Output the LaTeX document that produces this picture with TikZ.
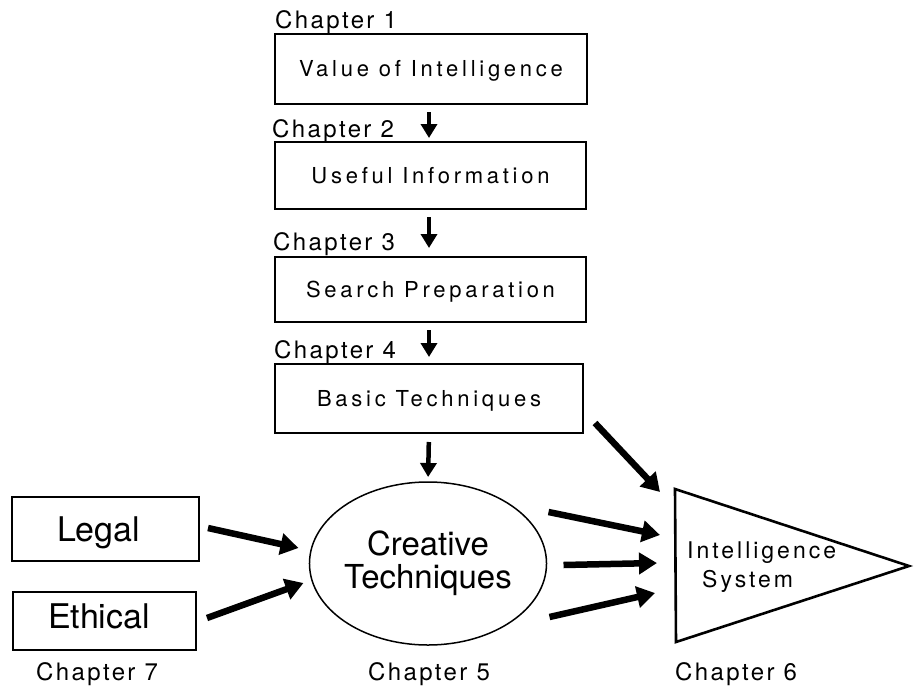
\documentclass[tikz,border=0pt]{standalone}
\usepackage{fontspec}
\setmainfont{TeX Gyre Heros}
\newfontfamily\chapfont[LetterSpace=10]{TeX Gyre Heros}
\newfontfamily\boxfont[LetterSpace=17]{TeX Gyre Heros}
\newfontfamily\trifont[LetterSpace=13]{TeX Gyre Heros}
\usetikzlibrary{arrows.meta,shapes.geometric}
\begin{document}
\begin{tikzpicture}[x=1pt,y=-1pt,
  chapbox/.style={draw, line width=1.7pt, inner sep=0pt, outer sep=0pt,
    text height=15pt, text depth=0pt,
    font=\boxfont\fontsize{22}{24}\selectfont},
  sidebox/.style={draw, line width=1.7pt, inner sep=0pt, outer sep=0pt,
    text height=24pt, text depth=0pt,
    font=\fontsize{34}{36}\selectfont},
  chaplabel/.style={inner sep=0pt, font=\chapfont\fontsize{24}{26}\selectfont},
  trilabel/.style={inner sep=0pt, font=\trifont\fontsize{23}{25}\selectfont},
  thinarrow/.style={line width=4.5pt, -{Triangle[length=14pt,width=16pt]}},
  bigarrow/.style={line width=6.5pt, -{Triangle[length=18pt,width=21pt]}}
]
\useasboundingbox (0,0) rectangle (914,689);

% chapter labels (top)
\node[chaplabel, anchor=base west] (c1) at (275,28) {Chapter 1};
\node[chaplabel, anchor=base west] (c2) at (272,137) {Chapter 2};
\node[chaplabel, anchor=base west] (c3) at (273,250) {Chapter 3};
\node[chaplabel, anchor=base west] (c4) at (274,358) {Chapter 4};

% main boxes
\node[chapbox, minimum width=312pt, minimum height=70pt] (b1) at (431,69) {Value of Intelligence};
\node[chapbox, minimum width=311pt, minimum height=67pt] (b2) at (430.5,175.5) {Useful Information};
\node[chapbox, minimum width=311pt, minimum height=65pt] (b3) at (430.5,289.5) {Search Preparation};
\node[chapbox, minimum width=308pt, minimum height=69pt] (b4) at (429,398.5) {Basic Techniques};

% ellipse
\node[ellipse, draw, line width=1.5pt, inner sep=0pt, outer sep=0pt,
      minimum width=204pt, minimum height=163pt, align=center,
      font=\fontsize{33}{33}\selectfont] (ell) at (428,563.5) {Creative\\Techniques};

% side boxes
\node[sidebox, minimum width=187pt, minimum height=64pt] (legal) at (105.5,529) {Legal\hspace*{14pt}};
\node[sidebox, minimum width=183pt, minimum height=58pt, text depth=10pt] (ethical) at (104.5,621) {Ethical\hspace*{11pt}};

% triangle
\coordinate (tT) at (675,489);
\coordinate (tB) at (676,642);
\coordinate (tA) at (909,566);
\draw[line width=2.6pt, line join=miter] (tT) -- (tA) -- (tB) -- cycle;
\node[trilabel, anchor=base west] (it1) at (687,558) {Intelligence};
\node[trilabel, anchor=base west] (it2) at (702,587) {System};

% bottom chapter labels
\node[chaplabel, anchor=base west] (c7) at (36,680) {Chapter 7};
\node[chaplabel, anchor=base] (c5) at (429,680) {Chapter 5};
\node[chaplabel, anchor=base west] (c6) at (675,680) {Chapter 6};

% vertical arrows
\draw[thinarrow, shorten <=8pt, shorten >=4pt] (b1.south -| b4.north) -- (b2.north -| b4.north);
\draw[thinarrow, shorten <=8pt, shorten >=9pt] (b2.south -| b4.north) -- (b3.north -| b4.north);
\draw[thinarrow, shorten <=8pt, shorten >=7pt] (b3.south -| b4.north) -- (b4.north);
\draw[thinarrow, shorten <=9pt, shorten >=5pt] (b4.south) -- (ell.north);

% arrow end points on the triangle
\coordinate (in0) at (660,492);
\coordinate (in1) at (660,535);
\coordinate (in2) at (657,563);
\coordinate (in3) at (655,593);

% big arrows
\draw[bigarrow] ([shift={(9,-1)}]legal.east) -- ([shift={(-11,-15.5)}]ell.west);
\draw[bigarrow] ([shift={(11,-3)}]ethical.east) -- ([shift={(-6,19.5)}]ell.west);
\draw[bigarrow] ([shift={(12,-10)}]b4.south east) -- (in0);
\draw[bigarrow] ([shift={(2,-51.5)}]ell.east) -- (in1);
\draw[bigarrow] ([shift={(17,1.5)}]ell.east) -- (in2);
\draw[bigarrow] ([shift={(3,53.5)}]ell.east) -- (in3);
\end{tikzpicture}
\end{document}
